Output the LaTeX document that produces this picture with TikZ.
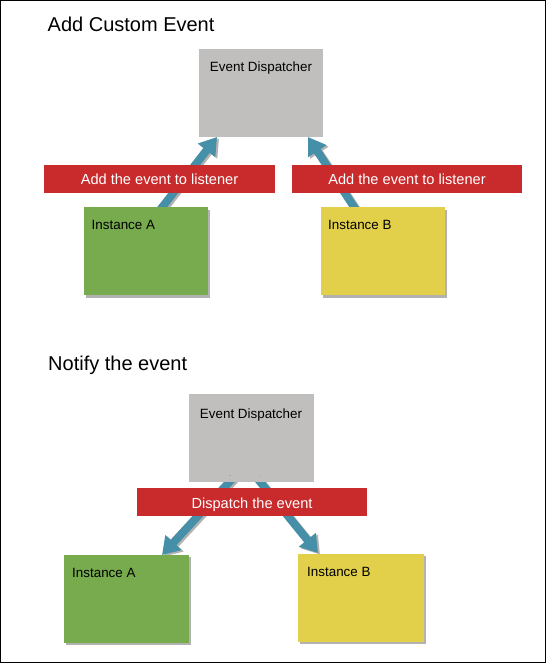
\documentclass[tikz,border=0pt]{standalone}
\usepackage{fontspec}
\setmainfont{Liberation Sans}
\usetikzlibrary{arrows.meta}
\definecolor{dgray}{HTML}{C0BFBE}
\definecolor{bandred}{HTML}{C92B2C}
\definecolor{igreen}{HTML}{77AB4E}
\definecolor{iyellow}{HTML}{E2D04A}
\definecolor{ablue}{HTML}{4590A8}
\definecolor{shadowgray}{HTML}{B4B2B0}
\begin{document}
\begin{tikzpicture}[x=1pt,y=-1pt,
  boxshape/.style={draw=none, inner sep=0pt, minimum width=124pt, minimum height=88pt},
  dispatcher/.style={boxshape, fill=dgray},
  band/.style={draw=none, fill=bandred, inner sep=0pt, minimum width=230pt, minimum height=28pt},
  title/.style={inner sep=0pt, anchor=base west, font=\fontsize{20}{24}\selectfont},
  boxtext/.style={inner sep=0pt, font=\fontsize{13.4}{16}\selectfont},
  bandtext/.style={inner sep=0pt, anchor=base, text=white, font=\fontsize{14.6}{17}\selectfont},
  flow/.style={line width=8pt, draw=ablue, -{Triangle[width=21pt,length=17pt]}},
  flowshadow/.style={line width=8pt, draw=shadowgray, -{Triangle[width=21pt,length=17pt]}}
]
\useasboundingbox (0,0) rectangle (546,663);
\draw[line width=1pt] (0.5,0.5) rectangle (545.5,662.5);

% ---------- top part ----------
\node[title] (t1) at (47.5,32) {Add Custom Event};

\node[dispatcher] (d1) at (261,93) {};
\node[boxtext, anchor=base] (d1t) at (261,72) {Event Dispatcher};

% instance boxes (positions)
\coordinate (a1c) at (146,251);
\coordinate (b1c) at (383,251);

% arrows (behind)
\coordinate (a1s) at (160,210);
\coordinate (a1e) at (217,137);
\coordinate (b1s) at (356,210);
\coordinate (b1e) at (308,137);
\draw[flowshadow] ([shift={(2,1.5)}]a1s) -- ([shift={(2,1.5)}]a1e);
\draw[flowshadow] ([shift={(2,1.5)}]b1s) -- ([shift={(2,1.5)}]b1e);
\draw[flow] (a1s) -- (a1e);
\draw[flow] (b1s) -- (b1e);

\node[band, minimum width=231pt] (r1) at (159.5,179) {};
\node[bandtext] (r1t) at (159.5,184) {Add the event to listener};
\node[band] (r2) at (407,179) {};
\node[bandtext] (r2t) at (407,184) {Add the event to listener};

\node[boxshape, fill=shadowgray] (a1sh) at ([shift={(2,2.5)}]a1c) {};
\node[boxshape, fill=igreen] (a1) at (a1c) {};
\node[boxtext, anchor=base west] (a1t) at (91.5,229) {Instance A};

\node[boxshape, fill=shadowgray] (b1sh) at ([shift={(2,2.5)}]b1c) {};
\node[boxshape, fill=iyellow] (b1) at (b1c) {};
\node[boxtext, anchor=base west] (b1t) at (328,229) {Instance B};

% ---------- bottom part ----------
\node[title] (t2) at (48,370) {Notify the event};

\node[dispatcher, minimum width=125pt] (d2) at (251.5,438) {};
\node[boxtext, anchor=base] (d2t) at (251,418) {Event Dispatcher};

\coordinate (a2c) at (126,598.5);
\coordinate (b2c) at (361,597.5);

\coordinate (a2s) at (233,478);
\coordinate (a2e) at (162,555);
\coordinate (b2s) at (257,478);
\coordinate (b2e) at (318,553);
\draw[flowshadow] ([shift={(2,1.5)}]a2s) -- ([shift={(2,1.5)}]a2e);
\draw[flowshadow] ([shift={(2,1.5)}]b2s) -- ([shift={(2,1.5)}]b2e);
\draw[flow] (a2s) -- (a2e);
\draw[flow] (b2s) -- (b2e);

\node[dispatcher, minimum width=125pt, minimum height=6pt] (d2b) at (251.5,479) {};

\node[band] (r3) at (252,502) {};
\node[bandtext] (r3t) at (252,508) {Dispatch the event};

\node[boxshape, fill=shadowgray, minimum width=125pt] (a2sh) at ([shift={(2,2.5)}]a2c) {};
\node[boxshape, fill=igreen, minimum width=125pt] (a2) at (a2c) {};
\node[boxtext, anchor=base west] (a2t) at (72,577) {Instance A};

\node[boxshape, fill=shadowgray, minimum width=126pt] (b2sh) at ([shift={(2,2.5)}]b2c) {};
\node[boxshape, fill=iyellow, minimum width=126pt] (b2) at (b2c) {};
\node[boxtext, anchor=base west] (b2t) at (307,576) {Instance B};
\end{tikzpicture}
\end{document}
